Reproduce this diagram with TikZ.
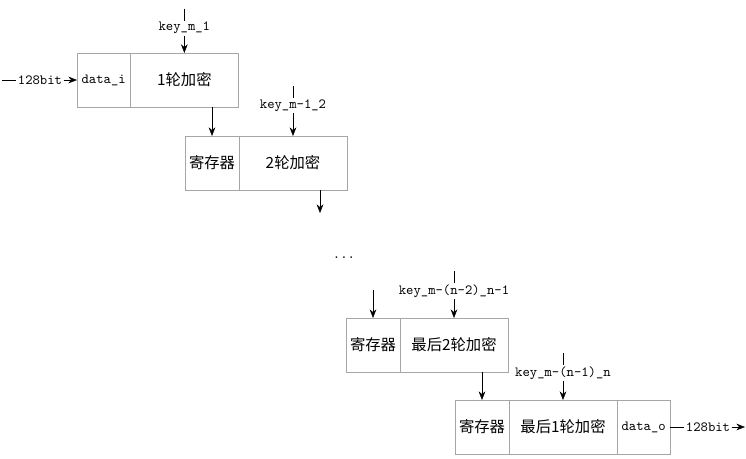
\documentclass[tikz,border=0pt]{standalone}
\usepackage{fontspec}
\setmainfont{Liberation Serif}
\newfontfamily\cjk{Noto Sans CJK SC}
\usetikzlibrary{arrows.meta, positioning}

\begin{document}
\begin{tikzpicture}[x=0.75pt,y=-0.75pt,>={Stealth[length=6.5pt,width=5pt]},cell/.style={draw=black!35, minimum height=40.5pt, inner sep=0pt, outer sep=0pt, font=\cjk\fontsize{11.5}{12}\selectfont},reg/.style={cell, minimum width=40.5pt},enc/.style={cell, minimum width=81pt},io/.style={cell, minimum width=40pt, font=\ttfamily\fontsize{10.5}{11}\selectfont},key/.style={font=\ttfamily\fontsize{10.5}{11}\selectfont, inner sep=1pt},conn/.style={->, thin}]
\useasboundingbox (0,0) rectangle (746,458);
% round 1
\node[io, anchor=north west] (d1) at (77,53) {data\_i};
\node[enc, right=0pt of d1] (e1) {1轮加密};
\node[key, above=13pt of e1] (k1) {key\_m\_1}; \coordinate[above=9pt of k1] (t1);
\draw (t1) -- (k1); \draw[conn] (k1) -- (e1);
\coordinate (in0) at (2,80); \node[key] (b1) at (40,80) {128bit};
\draw (in0) -- (b1); \draw[conn] (b1) -- (d1);
% round 2
\node[reg, anchor=north west] (r2) at (185,136) {寄存器};
\node[enc, right=0pt of r2] (e2) {2轮加密};
\node[key, above=17pt of e2] (k2) {key\_m-1\_2}; \coordinate[above=9pt of k2] (t2);
\draw (t2) -- (k2); \draw[conn] (k2) -- (e2);
\draw[conn] (r2.north |- d1.south) -- (r2);
\coordinate (c2) at (320,213); \draw[conn] (c2 |- e2.south) -- (c2);
\node[key] (dots) at (344,258) {...};
% round n-1
\node[reg, anchor=north west] (r3) at (346,318) {寄存器};
\node[enc, right=0pt of r3] (e3) {最后2轮加密};
\node[key, above=14pt of e3] (k3) {key\_m-(n-2)\_n-1}; \coordinate[above=9pt of k3] (t3);
\draw (t3) -- (k3); \draw[conn] (k3) -- (e3);
\coordinate (c3) at (373,290); \draw[conn] (c3) -- (r3);
% round n
\node[reg, anchor=north west] (r4) at (455,400) {寄存器};
\node[enc, right=0pt of r4] (e4) {最后1轮加密};
\node[io, right=0pt of e4] (o4) {data\_o};
\node[key, above=14pt of e4] (k4) {key\_m-(n-1)\_n}; \coordinate[above=9pt of k4] (t4);
\draw (t4) -- (k4); \draw[conn] (k4) -- (e4);
\draw[conn] (r4.north |- r3.south) -- (r4);
\node[key] (b2) at (708,427) {128bit}; \coordinate (out0) at (745,427);
\draw (o4) -- (b2); \draw[conn] (b2) -- (out0);
\end{tikzpicture}
\end{document}
